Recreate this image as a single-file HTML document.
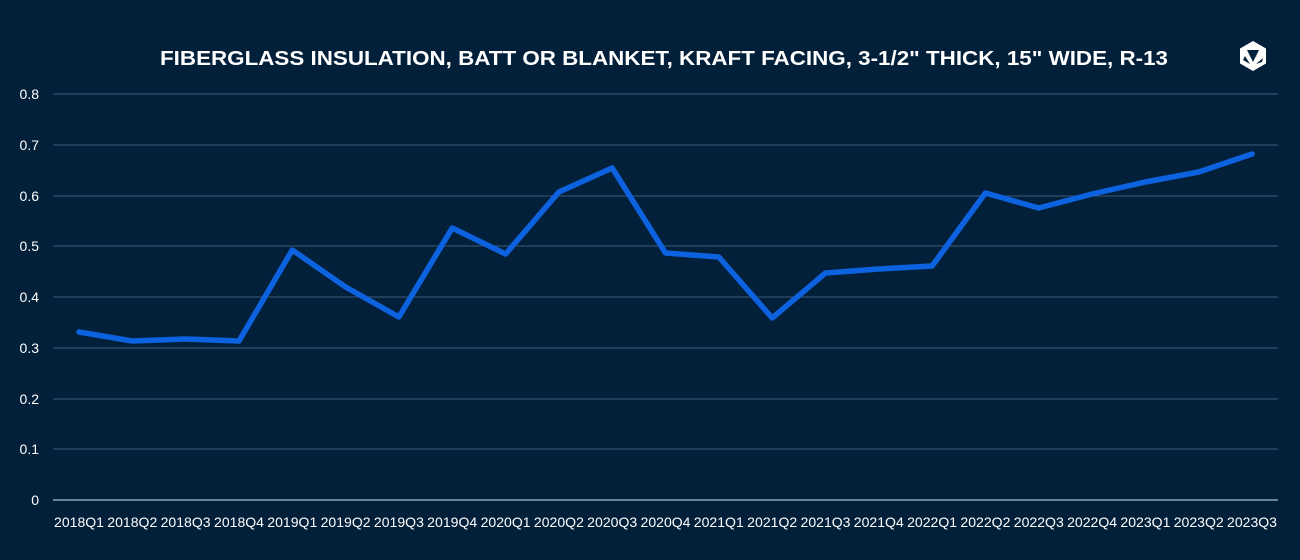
<!DOCTYPE html>
<html><head><meta charset="utf-8"><style>
html,body{margin:0;padding:0;background:#03203a;}
svg{display:block}
text{font-family:"Liberation Sans",sans-serif;fill:#fff}
</style></head><body>
<svg width="1300" height="560" viewBox="0 0 1300 560" xmlns="http://www.w3.org/2000/svg">
<rect width="1300" height="560" fill="#03203a"/>
<text x="664" y="65" text-anchor="middle" font-size="20" font-weight="bold" textLength="1008" lengthAdjust="spacingAndGlyphs">FIBERGLASS INSULATION, BATT OR BLANKET, KRAFT FACING, 3-1/2" THICK, 15" WIDE, R-13</text>
<g transform="translate(1253,56)" fill="#fff">
<polygon points="0,-15 13,-7.5 13,7.5 0,15 -13,7.5 -13,-7.5" fill="#fff"/>
<polygon points="-6,-6 6,-6 0,6" fill="#03203a"/>
<polygon points="-8,0 -3,8 -10,4" fill="#03203a"/>
<polygon points="3,8 10,2 9,6" fill="#03203a"/>
</g>
<g stroke="#3d5a78" stroke-width="1">
<line x1="53" x2="1278" y1="94" y2="94"/>
<line x1="53" x2="1278" y1="145" y2="145"/>
<line x1="53" x2="1278" y1="196" y2="196"/>
<line x1="53" x2="1278" y1="246" y2="246"/>
<line x1="53" x2="1278" y1="297" y2="297"/>
<line x1="53" x2="1278" y1="348" y2="348"/>
<line x1="53" x2="1278" y1="399" y2="399"/>
<line x1="53" x2="1278" y1="449" y2="449"/>
</g>
<line x1="53" x2="1278" y1="500" y2="500" stroke="#8aa4c0" stroke-width="1.5"/>
<g font-size="14" text-anchor="end">
<text x="39" y="99">0.8</text><text x="39" y="150">0.7</text><text x="39" y="201">0.6</text>
<text x="39" y="251">0.5</text><text x="39" y="302">0.4</text><text x="39" y="353">0.3</text>
<text x="39" y="404">0.2</text><text x="39" y="454">0.1</text><text x="39" y="505">0</text>
</g>
<g font-size="14" text-anchor="middle">
<text x="79" y="527" textLength="50" lengthAdjust="spacingAndGlyphs">2018Q1</text><text x="132.3" y="527" textLength="50" lengthAdjust="spacingAndGlyphs">2018Q2</text><text x="185.6" y="527" textLength="50" lengthAdjust="spacingAndGlyphs">2018Q3</text><text x="239" y="527" textLength="50" lengthAdjust="spacingAndGlyphs">2018Q4</text>
<text x="292.3" y="527" textLength="50" lengthAdjust="spacingAndGlyphs">2019Q1</text><text x="345.6" y="527" textLength="50" lengthAdjust="spacingAndGlyphs">2019Q2</text><text x="398.9" y="527" textLength="50" lengthAdjust="spacingAndGlyphs">2019Q3</text><text x="452.2" y="527" textLength="50" lengthAdjust="spacingAndGlyphs">2019Q4</text>
<text x="505.6" y="527" textLength="50" lengthAdjust="spacingAndGlyphs">2020Q1</text><text x="558.9" y="527" textLength="50" lengthAdjust="spacingAndGlyphs">2020Q2</text><text x="612.2" y="527" textLength="50" lengthAdjust="spacingAndGlyphs">2020Q3</text><text x="665.5" y="527" textLength="50" lengthAdjust="spacingAndGlyphs">2020Q4</text>
<text x="718.8" y="527" textLength="50" lengthAdjust="spacingAndGlyphs">2021Q1</text><text x="772.2" y="527" textLength="50" lengthAdjust="spacingAndGlyphs">2021Q2</text><text x="825.5" y="527" textLength="50" lengthAdjust="spacingAndGlyphs">2021Q3</text><text x="878.8" y="527" textLength="50" lengthAdjust="spacingAndGlyphs">2021Q4</text>
<text x="932.1" y="527" textLength="50" lengthAdjust="spacingAndGlyphs">2022Q1</text><text x="985.4" y="527" textLength="50" lengthAdjust="spacingAndGlyphs">2022Q2</text><text x="1038.8" y="527" textLength="50" lengthAdjust="spacingAndGlyphs">2022Q3</text><text x="1092.1" y="527" textLength="50" lengthAdjust="spacingAndGlyphs">2022Q4</text>
<text x="1145.4" y="527" textLength="50" lengthAdjust="spacingAndGlyphs">2023Q1</text><text x="1198.7" y="527" textLength="50" lengthAdjust="spacingAndGlyphs">2023Q2</text><text x="1252" y="527" textLength="50" lengthAdjust="spacingAndGlyphs">2023Q3</text>
</g>
<polyline fill="none" stroke="#0d62e0" stroke-width="5.5" stroke-linejoin="round" stroke-linecap="round"
points="79,332 132.3,341 185.6,339 239,341 292.3,250 345.6,287 398.9,317 452.2,228 505.6,254 558.9,192 612.2,168 665.5,253 718.8,257 772.2,318 825.5,273 878.8,269 932.1,266 985.4,193 1038.8,208 1092.1,194 1145.4,182 1198.7,172 1252,154"/>
</svg>
</body></html>
